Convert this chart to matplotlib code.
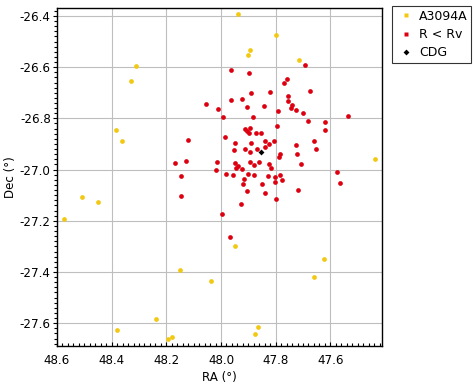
import matplotlib
matplotlib.use("Agg")
import matplotlib.pyplot as plt
from matplotlib.lines import Line2D
from matplotlib.ticker import MultipleLocator, FormatStrFormatter

# A3094A members (yellow)
a_ra = [47.939, 48.311, 48.329, 48.384, 48.362, 48.508, 47.800, 47.895, 47.902, 47.716,
        47.435, 48.450, 48.574, 47.950, 48.150, 48.037, 48.238, 48.380, 48.181, 48.194,
        47.625, 47.661, 47.866, 47.877]
a_dec = [-26.393, -26.594, -26.655, -26.845, -26.889, -27.108, -26.475, -26.534, -26.554, -26.573,
         -26.960, -27.128, -27.194, -27.300, -27.391, -27.436, -27.585, -27.628, -27.655, -27.663,
         -27.350, -27.421, -27.616, -27.643]

# R < Rv (red)
r_ra = [47.964, 47.899, 47.691, 47.760, 47.771, 47.891, 47.822, 47.676, 47.924, 47.964,
        48.055, 48.012, 47.906, 47.844, 47.756, 47.756, 47.742, 47.745, 47.727, 47.793,
        47.701, 47.993, 47.884, 47.537, 47.683, 47.618, 47.796, 47.621, 47.913, 47.895,
        47.906, 47.899, 47.873, 47.855, 47.986, 48.121, 47.950, 47.891, 47.840, 47.826,
        47.807, 47.661, 47.727, 47.953, 47.913, 47.895, 47.869, 47.840, 47.654, 47.785,
        47.789, 47.723, 48.169, 48.128, 48.015, 48.019, 48.147, 48.147, 47.950, 47.939,
        47.946, 47.924, 47.895, 47.880, 47.862, 47.826, 47.818, 47.709, 47.982, 47.957,
        47.902, 47.880, 47.829, 47.804, 47.785, 47.778, 47.804, 47.917, 47.920, 47.851,
        47.577, 47.566, 47.906, 47.840, 47.720, 47.800, 47.928, 47.997, 47.968]
r_dec = [-26.612, -26.624, -26.593, -26.647, -26.663, -26.702, -26.698, -26.694, -26.725, -26.729,
         -26.745, -26.764, -26.757, -26.753, -26.714, -26.733, -26.749, -26.761, -26.768, -26.772,
         -26.780, -26.796, -26.796, -26.792, -26.811, -26.815, -26.831, -26.846, -26.843, -26.838,
         -26.848, -26.858, -26.858, -26.858, -26.874, -26.886, -26.897, -26.897, -26.889, -26.901,
         -26.889, -26.889, -26.905, -26.925, -26.921, -26.932, -26.921, -26.913, -26.921, -26.940,
         -26.952, -26.940, -26.975, -26.968, -26.971, -27.003, -27.026, -27.104, -26.975, -26.987,
         -26.995, -26.999, -26.971, -26.983, -26.971, -26.979, -26.995, -26.979, -27.018, -27.022,
         -27.018, -27.022, -27.026, -27.030, -27.022, -27.042, -27.050, -27.038, -27.057, -27.057,
         -27.011, -27.054, -27.085, -27.093, -27.081, -27.116, -27.136, -27.175, -27.264]

# CDG
c_ra = [47.855]
c_dec = [-26.932]

labels = ["A3094A", "R < Rv", "CDG"]
yellow = "#F2C811"
red = "#DD0010"

plt.rcParams['font.family'] = ['DejaVu Sans']
fig = plt.figure(figsize=(4.74, 3.86), dpi=100)
ax = fig.add_axes([57/474, 1-346/386, (382-57)/474, (346-8)/386])

ax.plot(a_ra, a_dec, 'o', ms=3.4, color=yellow, mec='none', zorder=3)
ax.plot(r_ra, r_dec, 'o', ms=3.4, color=red, mec='none', zorder=4)
ax.plot(c_ra, c_dec, 'D', ms=3.0, color='black', mec='none', zorder=5)

ax.set_xlim(48.6, 47.411)
ax.set_ylim(-27.689, -26.369)
ax.xaxis.set_major_locator(MultipleLocator(0.2))
ax.yaxis.set_major_locator(MultipleLocator(0.2))
ax.xaxis.set_minor_locator(MultipleLocator(0.02))
ax.yaxis.set_minor_locator(MultipleLocator(0.02))
ax.xaxis.set_major_formatter(FormatStrFormatter('%.1f'))
ax.yaxis.set_major_formatter(FormatStrFormatter('%.1f'))
ax.grid(True, which='major', color='#BEBEBE', linewidth=0.8)
ax.set_axisbelow(True)
ax.tick_params(axis='x', which='major', direction='in', length=3, width=0.8, labelsize=8.6, pad=6)
ax.tick_params(axis='x', which='minor', direction='in', length=2, width=0.8)
ax.tick_params(axis='y', which='major', direction='out', length=3, width=0.8, labelsize=8.6, pad=1.5)
ax.tick_params(axis='y', which='minor', direction='out', length=2, width=0.8)
for s in ax.spines.values():
    s.set_linewidth(1.0)
    s.set_color('black')
ax.set_xlabel("RA (°)", fontsize=8.6, labelpad=3)
ax.set_ylabel("Dec (°)", fontsize=8.6)
ax.yaxis.set_label_coords(-0.122, 0.5)

handles = [Line2D([], [], marker='s', ls='none', ms=3, color=yellow, mec='none'),
           Line2D([], [], marker='s', ls='none', ms=3, color=red, mec='none'),
           Line2D([], [], marker='D', ls='none', ms=3, color='black', mec='none')]
leg = fig.legend(handles, labels, loc='upper left', bbox_to_anchor=(392/474, 1-6/386),
                 bbox_transform=fig.transFigure, fontsize=9, frameon=True, fancybox=False,
                 borderpad=0.3, handlelength=1.59, handletextpad=0.27, labelspacing=0.43,
                 borderaxespad=0)
leg.get_frame().set_edgecolor('black')
leg.get_frame().set_linewidth(0.8)

fig.savefig("out.png", dpi=100)
